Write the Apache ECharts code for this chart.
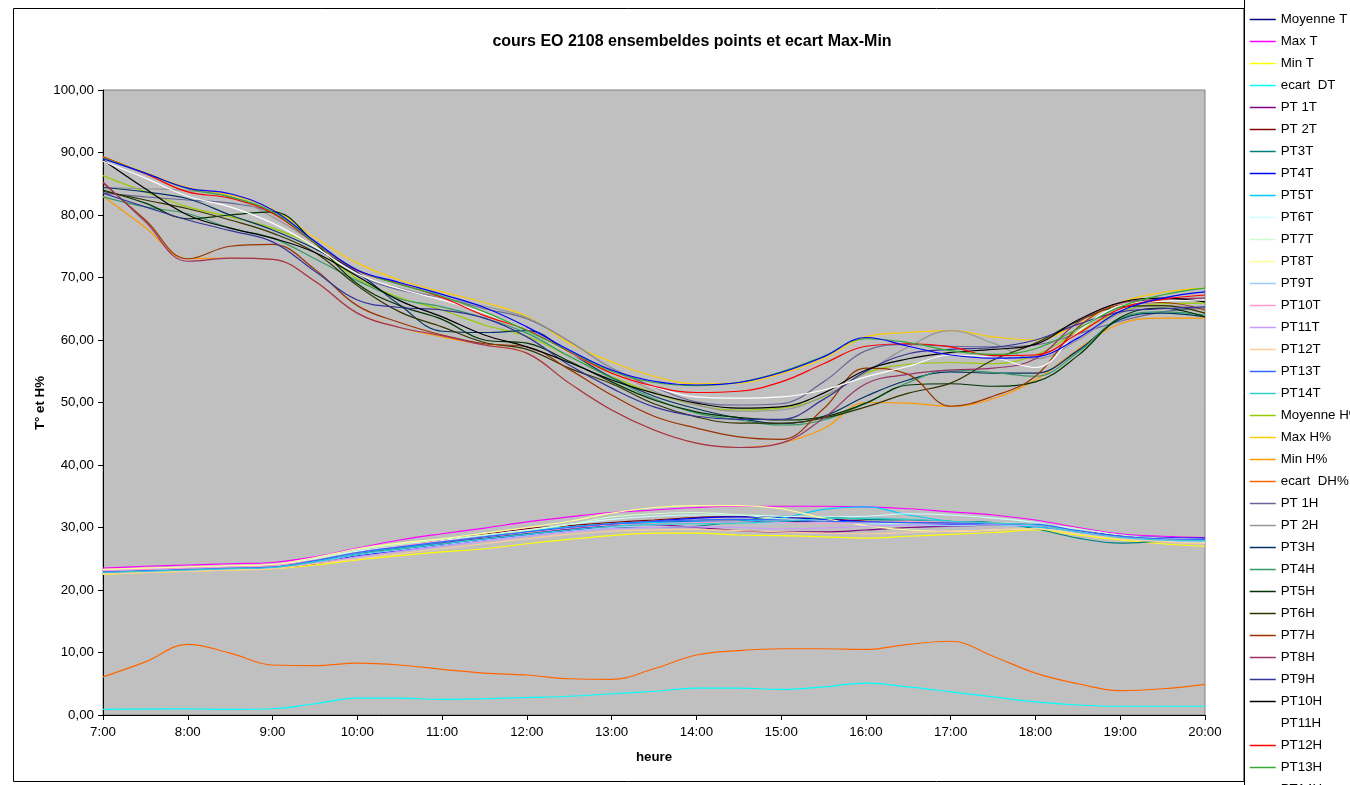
<!DOCTYPE html>
<html>
<head>
<meta charset="utf-8">
<script src="https://cdn.jsdelivr.net/npm/echarts@6/dist/echarts.min.js"></script>
<style>
html, body { margin: 0; padding: 0; background: #ffffff; }
#chart { width: 1350px; height: 785px; }
</style>
</head>
<body>
<div id="chart"></div>
<script>
// Readings every half hour from 7:00 to 20:00
const hours = [7, 7.5, 8, 8.5, 9, 9.5, 10, 10.5, 11, 11.5, 12, 12.5, 13, 13.5, 14, 14.5, 15, 15.5, 16, 16.5, 17, 17.5, 18, 18.5, 19, 19.5, 20];

// Temperature (T°)
const moyenneT = [22.9, 23.1, 23.3, 23.5, 23.7, 24.6, 25.7, 26.6, 27.4, 28.2, 29.0, 29.8, 30.5, 30.8, 31.0, 31.0, 30.9, 30.9, 30.8, 30.7, 30.6, 30.5, 30.3, 29.2, 28.3, 27.9, 27.8];
const maxT = [23.5, 23.8, 24.0, 24.2, 24.4, 25.3, 26.7, 28.0, 29.0, 29.9, 30.9, 31.7, 32.4, 32.8, 33.2, 33.4, 33.4, 33.4, 33.3, 33.0, 32.5, 32.0, 31.2, 30.0, 29.0, 28.6, 28.4];
const minT = [22.5, 22.8, 23.0, 23.2, 23.4, 24.0, 24.8, 25.5, 26.1, 26.6, 27.4, 28.1, 28.7, 29.1, 29.1, 28.8, 28.7, 28.5, 28.3, 28.6, 28.9, 29.2, 29.6, 28.8, 28.0, 27.4, 27.0];
const ecartDT = [0.9, 0.95, 1.0, 0.9, 1.0, 1.8, 2.7, 2.7, 2.5, 2.6, 2.8, 3.0, 3.4, 3.8, 4.3, 4.3, 4.1, 4.5, 5.1, 4.5, 3.7, 2.9, 2.1, 1.6, 1.4, 1.4, 1.4];
const pt1T = [23.1, 23.3, 23.5, 23.7, 23.8, 24.6, 25.8, 26.8, 27.6, 28.3, 29.0, 29.7, 30.3, 30.4, 30.0, 29.5, 29.3, 29.3, 29.6, 30.0, 30.2, 30.4, 30.5, 29.5, 28.6, 28.2, 28.0];
const pt2T = [23.0, 23.2, 23.4, 23.5, 23.6, 24.2, 25.6, 26.8, 28.0, 28.9, 29.8, 30.3, 30.8, 31.2, 31.6, 31.8, 31.7, 31.4, 31.0, 30.8, 30.7, 30.6, 30.2, 29.3, 28.5, 28.0, 27.6];
const pt3T = [22.8, 23.0, 23.2, 23.4, 23.6, 24.4, 25.6, 26.5, 27.3, 28.2, 29.0, 29.6, 30.0, 30.0, 30.2, 31.0, 31.8, 31.7, 31.3, 31.2, 31.0, 30.8, 29.8, 28.3, 27.5, 27.8, 28.0];
const pt4T = [22.9, 23.0, 23.2, 23.4, 23.6, 24.5, 25.5, 26.3, 27.2, 28.0, 28.8, 29.5, 30.4, 31.0, 31.5, 31.7, 31.6, 31.3, 30.9, 30.6, 30.5, 30.6, 30.6, 29.5, 28.7, 28.4, 28.3];
const pt5T = [22.7, 22.9, 23.1, 23.3, 23.5, 24.6, 25.9, 26.8, 27.7, 28.6, 29.4, 30.1, 30.6, 30.8, 30.9, 31.0, 31.5, 32.9, 33.3, 32.0, 31.0, 30.5, 30.1, 29.2, 28.5, 28.2, 28.0];
const pt6T = [23.2, 23.4, 23.6, 23.8, 24.0, 25.0, 26.2, 27.0, 27.9, 28.8, 29.6, 30.5, 31.3, 31.8, 32.0, 32.0, 31.8, 31.7, 31.8, 32.2, 32.0, 31.5, 30.8, 29.6, 28.4, 28.0, 27.8];
const pt7T = [23.0, 23.2, 23.4, 23.6, 23.8, 24.9, 26.4, 27.3, 28.1, 28.8, 29.5, 30.5, 31.7, 32.2, 32.4, 32.0, 31.4, 31.0, 30.7, 30.6, 30.6, 30.7, 30.6, 29.8, 28.8, 28.3, 28.1];
const pt8T = [23.3, 23.5, 23.7, 23.9, 24.1, 25.2, 26.6, 27.5, 28.2, 29.1, 30.0, 31.0, 32.3, 33.2, 33.5, 33.5, 33.0, 31.5, 30.3, 29.6, 29.4, 29.6, 29.8, 29.0, 28.2, 27.8, 27.6];
const pt9T = [22.6, 22.9, 23.1, 23.3, 23.5, 24.4, 25.6, 26.4, 27.2, 28.0, 28.7, 29.4, 30.0, 30.4, 30.6, 30.7, 30.7, 30.8, 30.6, 30.4, 30.3, 30.4, 30.3, 29.2, 28.3, 27.9, 27.7];
const pt10T = [23.1, 23.3, 23.5, 23.7, 23.9, 24.8, 26.0, 27.0, 27.8, 28.5, 29.2, 29.9, 30.4, 30.6, 30.8, 30.9, 30.8, 30.7, 30.8, 31.0, 30.9, 30.7, 30.4, 29.4, 28.5, 28.1, 27.9];
const pt11T = [22.8, 23.0, 23.2, 23.4, 23.6, 24.3, 25.3, 26.2, 27.0, 27.8, 28.6, 29.3, 29.8, 30.0, 30.1, 30.0, 29.8, 29.9, 30.2, 30.4, 30.6, 30.5, 30.3, 29.3, 28.5, 28.2, 28.0];
const pt12T = [22.6, 22.8, 23.0, 23.2, 23.4, 24.2, 25.0, 25.8, 26.6, 27.4, 28.2, 28.9, 29.4, 29.6, 29.7, 29.5, 29.3, 29.1, 29.0, 29.2, 29.4, 29.6, 29.8, 29.0, 28.2, 27.7, 27.4];
const pt13T = [22.9, 23.1, 23.3, 23.5, 23.7, 24.7, 26.0, 26.9, 27.7, 28.5, 29.3, 30.0, 30.6, 31.0, 31.2, 31.3, 31.2, 31.0, 30.9, 30.8, 30.7, 30.6, 30.5, 29.5, 28.6, 28.2, 28.1];
const pt14T = [22.8, 23.0, 23.2, 23.4, 23.6, 24.5, 25.7, 26.6, 27.4, 28.2, 28.9, 29.6, 30.2, 30.5, 30.6, 30.7, 31.0, 31.4, 31.5, 31.3, 31.0, 30.7, 30.4, 29.3, 28.4, 28.0, 27.9];

// Relative humidity (H%)
const moyenneH = [86.3, 83.7, 81.3, 79.7, 77.9, 74.9, 69.8, 66.8, 64.8, 62.4, 60.6, 57.4, 54.1, 51.5, 49.6, 48.8, 49.1, 50.9, 54.7, 56.1, 56.4, 56.2, 57.6, 61.3, 64.5, 65.8, 65.9];
const maxH = [89.3, 86.8, 84.4, 83.2, 80.9, 76.4, 72.3, 69.6, 67.7, 66.0, 63.8, 59.5, 56.5, 54.2, 53.0, 53.1, 54.6, 57.0, 60.5, 61.2, 61.5, 60.5, 60.0, 62.6, 66.0, 67.6, 68.3];
const minH = [83.0, 78.0, 73.0, 73.1, 72.9, 69.4, 64.3, 62.0, 60.5, 59.2, 57.9, 53.1, 48.8, 45.6, 43.5, 42.8, 43.5, 45.8, 50.0, 49.9, 49.4, 50.6, 53.6, 58.5, 62.6, 63.5, 63.5];
const ecartDH = [6.1, 8.5, 11.3, 9.9, 8.0, 7.9, 8.3, 8.0, 7.3, 6.7, 6.4, 5.8, 5.7, 7.4, 9.6, 10.3, 10.6, 10.6, 10.5, 11.3, 11.8, 9.4, 6.7, 5.0, 3.9, 4.2, 4.9];
const pt1H = [83.5, 82.9, 82.4, 81.9, 80.3, 75.5, 70.5, 68.0, 66.8, 65.0, 63.4, 59.8, 55.5, 52.5, 50.1, 49.6, 49.8, 53.3, 58.3, 59.3, 59.0, 58.9, 59.2, 61.0, 63.0, 64.5, 65.1];
const pt2H = [84.4, 84.2, 83.9, 82.9, 79.7, 75.5, 70.5, 68.3, 66.8, 65.4, 63.6, 59.8, 55.5, 51.8, 49.6, 48.6, 48.8, 51.0, 54.8, 58.9, 61.5, 59.5, 57.0, 60.0, 64.3, 65.5, 65.0];
const pt3H = [84.4, 83.7, 82.6, 80.0, 77.6, 74.6, 70.8, 65.6, 61.4, 61.2, 61.5, 58.0, 54.0, 51.0, 49.0, 47.5, 46.6, 47.8, 51.0, 53.6, 54.9, 54.7, 54.7, 58.3, 63.3, 64.3, 63.7];
const pt4H = [82.9, 81.3, 80.2, 77.9, 76.3, 73.0, 69.5, 66.6, 65.3, 63.5, 61.1, 57.4, 53.9, 50.6, 48.3, 47.2, 46.4, 47.2, 49.9, 53.2, 55.2, 54.8, 54.2, 58.0, 63.5, 64.5, 64.0];
const pt5H = [84.0, 81.9, 79.4, 80.0, 80.5, 75.5, 69.0, 65.5, 63.3, 60.0, 59.5, 56.6, 53.3, 50.4, 48.5, 47.6, 47.2, 47.7, 49.9, 52.8, 53.0, 52.6, 53.3, 57.5, 63.6, 65.1, 63.7];
const pt6H = [83.8, 82.4, 81.0, 79.2, 77.1, 74.0, 68.7, 64.5, 62.1, 59.6, 58.5, 55.5, 53.0, 49.8, 47.7, 46.7, 46.7, 47.5, 49.3, 51.5, 53.1, 56.8, 59.5, 63.0, 65.3, 65.5, 64.3];
const pt7H = [85.1, 79.2, 73.0, 75.0, 75.3, 71.3, 65.5, 62.8, 60.8, 59.4, 58.9, 55.3, 51.2, 47.8, 45.9, 44.5, 44.1, 49.0, 55.5, 54.5, 49.4, 51.0, 54.2, 62.0, 65.6, 66.0, 64.8];
const pt8H = [85.3, 78.9, 72.6, 73.1, 72.9, 69.4, 64.3, 62.0, 60.7, 59.2, 57.9, 53.1, 48.8, 45.6, 43.5, 42.8, 43.5, 47.5, 53.0, 54.5, 55.2, 55.5, 57.0, 62.8, 65.9, 66.5, 66.7];
const pt9H = [83.5, 81.3, 79.2, 77.5, 75.7, 71.0, 66.4, 65.2, 64.8, 63.5, 60.5, 56.0, 52.3, 49.3, 47.8, 47.3, 47.3, 50.5, 55.0, 57.8, 58.5, 58.8, 60.0, 62.5, 64.5, 65.0, 65.3];
const pt10H = [88.8, 84.2, 80.0, 77.9, 76.3, 74.0, 70.2, 66.3, 63.7, 60.8, 58.9, 56.4, 53.6, 51.5, 49.9, 49.1, 49.3, 51.5, 55.2, 57.0, 58.0, 58.5, 59.3, 63.2, 66.0, 66.7, 66.1];
const pt11H = [88.6, 85.9, 83.0, 81.3, 78.7, 74.9, 70.6, 68.2, 66.4, 64.3, 61.6, 58.0, 54.7, 52.5, 50.9, 50.7, 50.9, 52.0, 54.1, 55.8, 57.6, 57.2, 55.6, 61.3, 65.5, 66.2, 66.4];
const pt12H = [89.3, 86.6, 83.7, 82.7, 80.3, 75.5, 71.1, 69.0, 66.8, 63.9, 61.6, 58.1, 54.7, 52.6, 51.6, 51.8, 53.3, 56.2, 59.0, 59.4, 58.9, 57.5, 57.6, 61.0, 65.0, 66.5, 67.2];
const pt13H = [89.2, 86.7, 84.2, 82.9, 80.5, 75.6, 71.2, 68.9, 67.0, 64.5, 61.5, 58.2, 55.0, 53.2, 52.7, 53.2, 54.9, 57.4, 60.2, 59.6, 58.3, 57.7, 58.6, 61.8, 65.3, 67.2, 68.3];
const pt14H = [89.0, 86.7, 84.3, 83.4, 80.8, 75.8, 71.2, 69.2, 67.3, 65.2, 62.1, 58.4, 55.2, 53.4, 52.8, 53.2, 54.8, 57.3, 60.4, 59.0, 57.6, 57.1, 57.3, 60.3, 64.6, 66.7, 67.7];

// Series labels, in legend order
const seriesNames = [
  'Moyenne T', 'Max T', 'Min T', 'ecart  DT',
  'PT 1T', 'PT 2T', 'PT3T', 'PT4T', 'PT5T', 'PT6T', 'PT7T', 'PT8T', 'PT9T', 'PT10T', 'PT11T', 'PT12T', 'PT13T', 'PT14T',
  'Moyenne H%', 'Max H%', 'Min H%', 'ecart  DH%',
  'PT 1H', 'PT 2H', 'PT3H', 'PT4H', 'PT5H', 'PT6H', 'PT7H', 'PT8H', 'PT9H', 'PT10H', 'PT11H', 'PT12H', 'PT13H', 'PT14H'
];
const seriesValues = [
  moyenneT, maxT, minT, ecartDT,
  pt1T, pt2T, pt3T, pt4T, pt5T, pt6T, pt7T, pt8T, pt9T, pt10T, pt11T, pt12T, pt13T, pt14T,
  moyenneH, maxH, minH, ecartDH,
  pt1H, pt2H, pt3H, pt4H, pt5H, pt6H, pt7H, pt8H, pt9H, pt10H, pt11H, pt12H, pt13H, pt14H
];

// Line colours (classic spreadsheet palette)
const lineColors = [
  '#000080', '#FF00FF', '#FFFF00', '#00FFFF',
  '#800080', '#800000', '#008080', '#0000FF', '#00CCFF', '#CCFFFF', '#CCFFCC', '#FFFF99', '#99CCFF', '#FF99CC', '#CC99FF', '#FFCC99', '#3366FF', '#33CCCC',
  '#99CC00', '#FFCC00', '#FF9900', '#FF6600',
  '#666699', '#969696', '#003366', '#339966', '#003300', '#333300', '#993300', '#993366', '#333399', '#000000', '#FFFFFF', '#FF0000', '#33AA33', '#0000FF'
];

const FONT = "'Liberation Sans', Arial, sans-serif";

const series = seriesNames.map((name, i) => ({
  name: name,
  type: 'line',
  data: hours.map((h, k) => [h, seriesValues[i][k]]),
  smooth: 0.4,
  symbol: 'none',
  showSymbol: false,
  lineStyle: { color: lineColors[i], width: 1.2 },
  itemStyle: { color: lineColors[i] },
  emphasis: { disabled: true }
}));

const chart = echarts.init(document.getElementById('chart'), null, { renderer: 'canvas' });

chart.setOption({
  animation: false,
  backgroundColor: '#ffffff',
  textStyle: { fontFamily: FONT },
  title: {
    text: 'cours EO 2108 ensembeldes points et ecart Max-Min',
    left: 687,
    top: 29,
    textAlign: 'center',
    textStyle: { fontFamily: FONT, fontSize: 16, fontWeight: 'bold', color: '#000000' }
  },
  legend: {
    orient: 'vertical',
    left: 1249,
    top: 12.5,
    height: 1000,
    itemWidth: 26,
    itemHeight: 14,
    itemGap: 8,
    padding: 0,
    selectedMode: false,
    data: seriesNames,
    itemStyle: { color: 'rgba(0,0,0,0)', borderWidth: 0 },
    lineStyle: { width: 1.5 },
    textStyle: { fontFamily: FONT, fontSize: 13.3, color: '#000000', lineHeight: 14 }
  },
  grid: {
    left: 103,
    right: 145,
    top: 90,
    bottom: 70,
    show: true,
    backgroundColor: '#C0C0C0',
    borderColor: '#808080',
    borderWidth: 1
  },
  xAxis: {
    type: 'value',
    min: 7,
    max: 20,
    interval: 1,
    axisLine: { show: true, onZero: false, lineStyle: { color: '#000000', width: 1 } },
    axisTick: { show: true, length: 5, lineStyle: { color: '#000000' } },
    axisLabel: {
      margin: 11,
      fontFamily: FONT,
      fontSize: 13.3,
      color: '#000000',
      formatter: v => v + ':00'
    },
    splitLine: { show: false }
  },
  yAxis: {
    type: 'value',
    min: 0,
    max: 100,
    interval: 10,
    axisLine: { show: true, lineStyle: { color: '#000000', width: 1 } },
    axisTick: { show: true, length: 5, lineStyle: { color: '#000000' } },
    axisLabel: {
      margin: 9,
      fontFamily: FONT,
      fontSize: 13.3,
      color: '#000000',
      formatter: v => v.toFixed(2).replace('.', ',')
    },
    splitLine: { show: false }
  },
  graphic: [
    {
      type: 'rect',
      shape: { x: 13.5, y: 8.5, width: 1230.5, height: 773 },
      style: { fill: null, stroke: '#000000', lineWidth: 1 },
      silent: true, z: 100
    },
    {
      type: 'line',
      shape: { x1: 1244.5, y1: 0, x2: 1244.5, y2: 785 },
      style: { stroke: '#000000', lineWidth: 1 },
      silent: true, z: 100
    },
    {
      type: 'text',
      x: 40, y: 403,
      rotation: Math.PI / 2,
      style: {
        text: 'T° et H%',
        fontFamily: FONT, fontSize: 13.3, fontWeight: 'bold', fill: '#000000',
        align: 'center', verticalAlign: 'middle'
      },
      silent: true, z: 100
    },
    {
      type: 'text',
      x: 654, y: 757,
      style: {
        text: 'heure',
        fontFamily: FONT, fontSize: 13.3, fontWeight: 'bold', fill: '#000000',
        align: 'center', verticalAlign: 'middle'
      },
      silent: true, z: 100
    }
  ],
  series: series
});
</script>
</body>
</html>
